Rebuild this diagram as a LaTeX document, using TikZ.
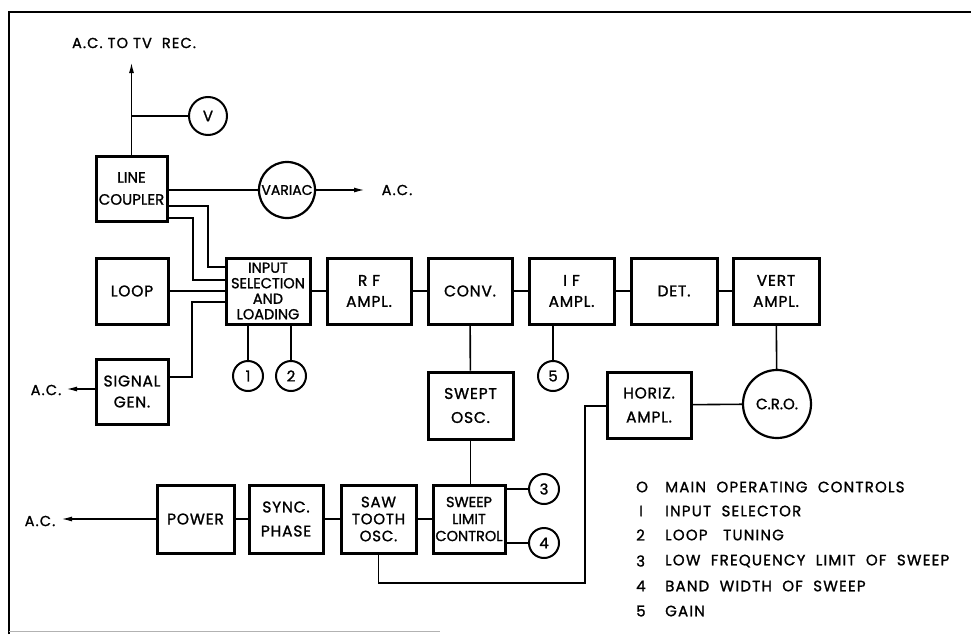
\documentclass[tikz,border=0pt]{standalone}
\usepackage{fontspec}
\setmainfont{Poppins}[FakeBold=1.3]
\newfontfamily\wide{Poppins}[FakeBold=1.3, LetterSpace=5]
\newfontfamily\wider{Poppins}[FakeBold=1.3, LetterSpace=8]
\usetikzlibrary{arrows.meta}
\tikzset{
  blk/.style={draw, line width=3pt, minimum width=84pt, minimum height=66pt, inner sep=0pt, align=center, font=\wide\fontsize{15.5}{21}\selectfont},
  rnd/.style={draw, circle, line width=2pt, inner sep=0pt, font=\wide\fontsize{15}{16}\selectfont},
  ctl/.style={rnd, minimum size=30pt},
  wire/.style={line width=1.6pt},
  tip/.style={wire, -{Latex[length=11pt,width=5pt]}},
  lbl/.style={font=\wider\fontsize{14.5}{16}\selectfont, inner sep=0pt},
  leg/.style={font=\wider\fontsize{15}{16}\selectfont, inner sep=0pt, anchor=west}
}
\begin{document}
\begin{tikzpicture}[x=1pt,y=-1pt]
\useasboundingbox (0,0) rectangle (971,634);
% frame
\draw[line width=1.8pt] (9,634) -- (9,12) -- (971,12);
\draw[line width=0.8pt, black!30] (9,631) -- (440,631);

% blocks
\node[blk, minimum width=71pt, minimum height=65pt, font=\fontsize{15}{22}\selectfont] (coupler) at (131.5,188.5) {LINE\\COUPLER};
\node[blk, minimum width=72pt] (loop) at (132,291) {LOOP};
\node[blk, minimum width=72pt, minimum height=65pt] (siggen) at (132,391.5) {SIGNAL\\GEN.};
\node[blk, font=\fontsize{14.5}{15.5}\selectfont] (input) at (268,291) {INPUT\\SELECTION\\AND\\LOADING};
\node[blk] (rf) at (369,291) {R F\\AMPL.};
\node[blk] (conv) at (470,291) {CONV.};
\node[blk, minimum width=85pt] (ifamp) at (571.5,291) {I F\\AMPL.};
\node[blk, minimum width=86pt] (det) at (674,291) {DET.};
\node[blk, minimum width=86pt] (vert) at (776,291) {VERT\\AMPL.};
\node[blk, minimum width=85pt, minimum height=67pt, font=\wide\fontsize{15.5}{24}\selectfont] (swept) at (470.5,405.5) {SWEPT\\OSC.};
\node[blk, font=\wide\fontsize{15.5}{24}\selectfont] (horiz) at (649,405) {HORIZ.\\AMPL.};
\node[blk, minimum width=77pt, minimum height=68pt] (power) at (195.5,519) {POWER};
\node[blk, minimum width=74pt, minimum height=68pt, font=\wide\fontsize{15.5}{24}\selectfont] (sync) at (286,519) {SYNC.\\PHASE};
\node[blk, minimum width=75pt, minimum height=68pt, font=\wide\fontsize{15}{17}\selectfont] (saw) at (378.5,519) {SAW\\TOOTH\\OSC.};
\node[blk, minimum width=72pt, minimum height=68pt, font=\fontsize{14.5}{17}\selectfont] (sweep) at (469,519) {SWEEP\\LIMIT\\CONTROL};

% round items
\node[rnd, minimum size=38pt] (V) at (208,116) {V};
\node[rnd, minimum size=56pt, line width=2.2pt, font=\fontsize{14}{14}\selectfont] (variac) at (287,190) {VARIAC};
\node[ctl] (c1) at (248,376) {1};
\node[ctl] (c2) at (291,376) {2};
\node[ctl] (c5) at (553,376) {5};
\node[ctl] (c3) at (544,489) {3};
\node[ctl] (c4) at (544,543) {4};
\node[rnd, minimum size=68pt, line width=2.2pt, font=\fontsize{15}{16}\selectfont] (cro) at (777,404) {C.R.O.};

% free ends and labels
\coordinate (topend) at (coupler.north |- 0,62);
\coordinate (acright) at (365,190);
\coordinate (acsig) at (66,389);
\coordinate (acpow) at (61,519);
\node[lbl] (tvrec) at (134,43) {A.C.\ TO\ TV\ \ REC.};
\node[lbl] (acv) at (397,190) {A.C.};
\node[lbl] (acs) at (46,390) {A.C.};
\node[lbl] (acp) at (40,521) {A.C.};

% connectors
\draw[tip] (coupler.north) -- (topend);
\draw[wire] (coupler.north |- V) -- (V);
\draw[wire] (coupler.east |- variac) -- (variac);
\draw[tip] (variac) -- (acright);
\draw[wire] (coupler.east |- 0,206) -- (208,206) |- (input.west |- 0,267);
\draw[wire] (coupler.east |- 0,218) -- (193,218) |- (input.west |- 0,280);
\draw[wire] (loop) -- (input);
\draw[wire] (siggen.east |- 0,377) -- (192,377) |- (input.west |- 0,302);
\draw[tip] (siggen.west |- acsig) -- (acsig);
\draw[wire] (input) -- (rf);
\draw[wire] (rf) -- (conv);
\draw[wire] (conv) -- (ifamp);
\draw[wire] (ifamp) -- (det);
\draw[wire] (det) -- (vert);
\draw[wire] (c1.north |- input.south) -- (c1);
\draw[wire] (c2.north |- input.south) -- (c2);
\draw[wire] (c5.north |- ifamp.south) -- (c5);
\draw[wire] (conv) -- (swept);
\draw[wire] (swept) -- (sweep.north -| swept);
\draw[wire] (vert) -- (cro);
\draw[wire] (horiz) -- (cro);
\draw[tip] (power) -- (acpow);
\draw[wire] (power) -- (sync);
\draw[wire] (sync) -- (saw);
\draw[wire] (saw) -- (sweep);
\draw[wire] (sweep.east |- c3) -- (c3);
\draw[wire] (sweep.east |- c4) -- (c4);
\draw[wire] (saw.south) -- (saw.south |- 0,583) -- (585,583) |- (horiz.west |- 0,406);

% legend
\node[leg] (n0) at (636,487) {O};
\node[leg] (n1) at (639,511) {I};
\node[leg] (n2) at (636,535) {2};
\node[leg] (n3) at (636,561) {3};
\node[leg] (n4) at (636,586) {4};
\node[leg] (n5) at (636,611) {5};
\node[leg] (t0) at (665,487) {MAIN\ \ OPERATING\ \ CONTROLS};
\node[leg] (t1) at (665,511) {INPUT\ \ SELECTOR};
\node[leg] (t2) at (665,535) {LOOP\ \ \ TUNING};
\node[leg] (t3) at (665,561) {LOW\ \ FREQUENCY\ \ LIMIT\ \ OF\ \ SWEEP};
\node[leg] (t4) at (665,586) {BAND\ \ WIDTH\ \ OF\ \ SWEEP};
\node[leg] (t5) at (665,611) {GAIN};
\end{tikzpicture}
\end{document}
